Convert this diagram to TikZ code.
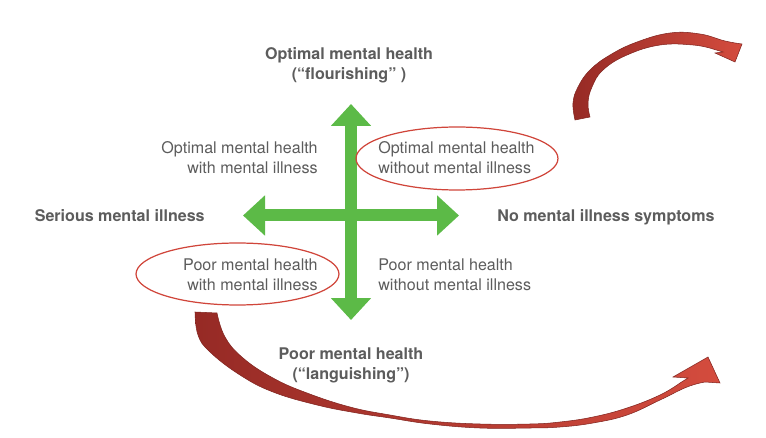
\documentclass[tikz,border=0pt]{standalone}
\usepackage{fontspec}
\setmainfont{TeX Gyre Heros}
\usetikzlibrary{arrows.meta}
\definecolor{crossgreen}{RGB}{92,186,71}
\definecolor{labelgray}{RGB}{92,92,92}
\definecolor{ovalred}{RGB}{208,69,58}
\definecolor{arrowdark}{RGB}{150,42,37}
\definecolor{arrowlight}{RGB}{212,76,62}

\begin{document}
\begin{tikzpicture}[x=0.02cm, y=-0.02cm,
        lbl/.style={inner sep=0pt, text=labelgray, font=\fontsize{9.15}{11.4}\selectfont},
        title/.style={lbl, font=\fontsize{9.15}{11.4}\selectfont\bfseries, align=center},
        axis/.style={crossgreen, line width=0.24cm,
            {Triangle[width=0.78cm,length=0.44cm]}-{Triangle[width=0.78cm,length=0.44cm]}},
        oval/.style={ovalred, line width=0.7pt},
        curvearrow/.style={left color=arrowdark, right color=arrowlight, draw=arrowdark!85!black, line width=0.3pt}]
        \useasboundingbox (0,0) rectangle (766,438);

        % Green cross
        \coordinate (top) at (351,104);
        \coordinate (bottom) at (351,320);
        \coordinate (left) at (243,215.5);
        \coordinate (right) at (459,215.5);
        \draw[axis] (bottom) -- (top);
        \draw[axis] (left) -- (right);

        % Axis titles
        \node[title] (flourish) at (349,65) {Optimal mental health\\(“flourishing” )};
        \node[title] (languish) at (351,365) {Poor mental health\\(“languishing”)};
        \node[title, anchor=east] (serious) at (205,216) {Serious mental illness};
        \node[title, anchor=west] (nosympt) at (497,217) {No mental illness symptoms};

        % Quadrants
        \node[lbl, align=right, anchor=east] (optwith) at (318,158) {Optimal mental health\\with mental illness};
        \node[lbl, align=left, anchor=west] (optwithout) at (378,158) {Optimal mental health\\without mental illness};
        \node[lbl, align=right, anchor=east] (poorwith) at (318,274.5) {Poor mental health\\with mental illness};
        \node[lbl, align=left, anchor=west] (poorwithout) at (378,274.5) {Poor mental health\\without mental illness};

        % Red ovals
        \draw[oval] (457,158.5) ellipse [x radius=2.02cm, y radius=0.63cm];
        \draw[oval] (237.5,274) ellipse [x radius=2.03cm, y radius=0.62cm];

        % Lower curved arrow
        \shade[curvearrow] plot[smooth, tension=0.7] coordinates {(195,312) (198,335) (210,352) (240,375)
                (273,392) (317,405) (357,413) (390,418) (430,424) (480,428) (530,428) (560,427) (593,423)
                (627,415) (660,400) (687,387) (705,382)}
            -- (720,383) -- (708,357) -- (673,377) -- (688,378)
            -- plot[smooth, tension=0.7] coordinates {(680,383) (660,395) (627,408) (593,417) (560,422)
                (530,424) (480,424) (430,421) (390,415) (350,407) (307,393) (273,378) (243,358) (225,337)
                (217,313)} -- cycle;

        % Upper curved arrow
        \shade[curvearrow] plot[smooth, tension=0.7] coordinates {(575,120) (573,103) (578,87) (590,70) (610,55)
                (637,42) (670,33) (700,34) (725,41) (742,44)}
            -- (735,62) -- (715,53) -- (723,52)
            -- plot[smooth, tension=0.7] coordinates {(713,49) (693,45) (660,45) (627,55) (603,70) (592,87)
                (588,103) (590,117)} -- cycle;
    \end{tikzpicture}
\end{document}
